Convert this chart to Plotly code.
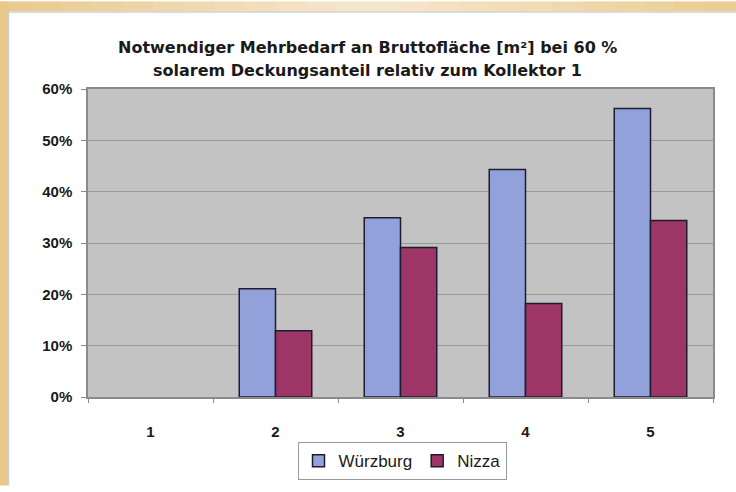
import plotly.graph_objects as go

categories = ["1", "2", "3", "4", "5"]
wuerzburg = [0.0, 0.211, 0.349, 0.443, 0.562]
nizza = [0.0, 0.129, 0.291, 0.182, 0.344]
series_names = ["Würzburg", "Nizza"]
title_lines = ["Notwendiger Mehrbedarf an Bruttofläche [m²] bei 60 %",
               "solarem Deckungsanteil relativ zum Kollektor 1"]

W, H = 736, 492
L, R, T, B = 88, 713, 89, 402
FONT = "Liberation Sans, Arial, sans-serif"
TITLE_FONT = "DejaVu Sans, Liberation Sans, sans-serif"
COLORS = ["#93a1db", "#9e3567"]
EDGE = "#1c1c30"

def px(x):
    return (x - L) / (R - L)

def py(y):
    return (B - y) / (B - T)

def outline_widths(vals):
    return [0 if v == 0 else 1.5 for v in vals]

fig = go.Figure()
for name, vals, col, grp in [(series_names[0], wuerzburg, COLORS[0], "a"),
                             (series_names[1], nizza, COLORS[1], "b")]:
    fig.add_trace(go.Bar(x=categories, y=vals, name=name, showlegend=False, offsetgroup=grp,
                         legendgroup=grp,
                         marker=dict(color=col, line=dict(color=EDGE, width=outline_widths(vals)))))
for name, col, grp in [(series_names[0], COLORS[0], "a"), (series_names[1], COLORS[1], "b")]:
    fig.add_trace(go.Bar(x=[categories[0]], y=[None], name=name, offsetgroup=grp, legendgroup=grp,
                         marker=dict(color=col, line=dict(color=EDGE, width=1.5))))

shapes = []
def lerp(c1, c2, t):
    return tuple(int(round(a + (b - a) * t)) for a, b in zip(c1, c2))
cl, cm, cr = (233, 201, 140), (246, 231, 205), (236, 204, 142)
n = 24
for i in range(n):
    x0 = W * i / n
    x1 = W * (i + 1) / n + 0.5
    t = (i + 0.5) / n
    c = lerp(cl, cm, t * 2) if t < 0.5 else lerp(cm, cr, (t - 0.5) * 2)
    shapes.append(dict(type="rect", xref="paper", yref="paper", x0=px(x0), x1=px(x1),
                       y0=py(10), y1=py(0), fillcolor="rgb(%d,%d,%d)" % c, line=dict(width=0), layer="below"))
shapes.append(dict(type="rect", xref="paper", yref="paper", x0=px(0), x1=px(8), y0=py(H), y1=py(0),
                   fillcolor="#e8c98b", line=dict(width=0), layer="below"))
shapes.append(dict(type="line", xref="paper", yref="paper", x0=px(8.5), x1=px(8.5), y0=py(10), y1=py(H),
                   line=dict(color="#cfcfcf", width=1.5)))
shapes.append(dict(type="line", xref="paper", yref="paper", x0=px(8), x1=px(W), y0=py(10.7), y1=py(10.7),
                   line=dict(color="#cfcfcf", width=1.5)))

annotations = [
    dict(text=title_lines[0], xref="paper", yref="paper", x=px(367), y=py(47), showarrow=False,
         xanchor="center", yanchor="middle", font=dict(family=TITLE_FONT, size=16, color="#1a1a1a", weight="bold")),
    dict(text=title_lines[1], xref="paper", yref="paper", x=px(367), y=py(70), showarrow=False,
         xanchor="center", yanchor="middle", font=dict(family=TITLE_FONT, size=16, color="#1a1a1a", weight="bold")),
]

fig.update_layout(
    width=W, height=H,
    margin=dict(l=L, r=W - R, t=T, b=H - B, pad=0),
    paper_bgcolor="white",
    plot_bgcolor="#c3c3c3",
    barmode="group",
    bargap=0.42,
    bargroupgap=0,
    font=dict(family=FONT, color="#1a1a1a"),
    shapes=shapes,
    annotations=annotations,
    showlegend=True,
    legend=dict(orientation="h", x=px(402), xanchor="center", y=py(448), yanchor="top",
                bordercolor="#9a9a9a", borderwidth=1, bgcolor="white",
                font=dict(family=FONT, size=17, color="#1a1a1a"),
                itemwidth=30, traceorder="normal"),
    xaxis=dict(showline=True, linecolor="#8a8a8a", linewidth=1.5, mirror=True,
               ticks="outside", ticklen=4, tickcolor="#8a8a8a", tickson="boundaries",
               tickfont=dict(family=FONT, size=15, color="#1a1a1a", weight="bold"),
               ticklabelstandoff=20, showgrid=False, fixedrange=True),
    yaxis=dict(range=[0, 0.6], tickvals=[0, 0.1, 0.2, 0.3, 0.4, 0.5, 0.6], tickformat=".0%",
               showline=True, linecolor="#8a8a8a", linewidth=1.5, mirror=True,
               ticks="outside", ticklen=5, tickcolor="#8a8a8a",
               gridcolor="#9a9a9a", gridwidth=1.2, zeroline=False,
               tickfont=dict(family=FONT, size=15, color="#1a1a1a", weight="bold"),
               ticklabelstandoff=6, fixedrange=True),
)

fig.write_html("out.html", config={"displayModeBar": False},
               post_script="document.body.style.margin='0';")
